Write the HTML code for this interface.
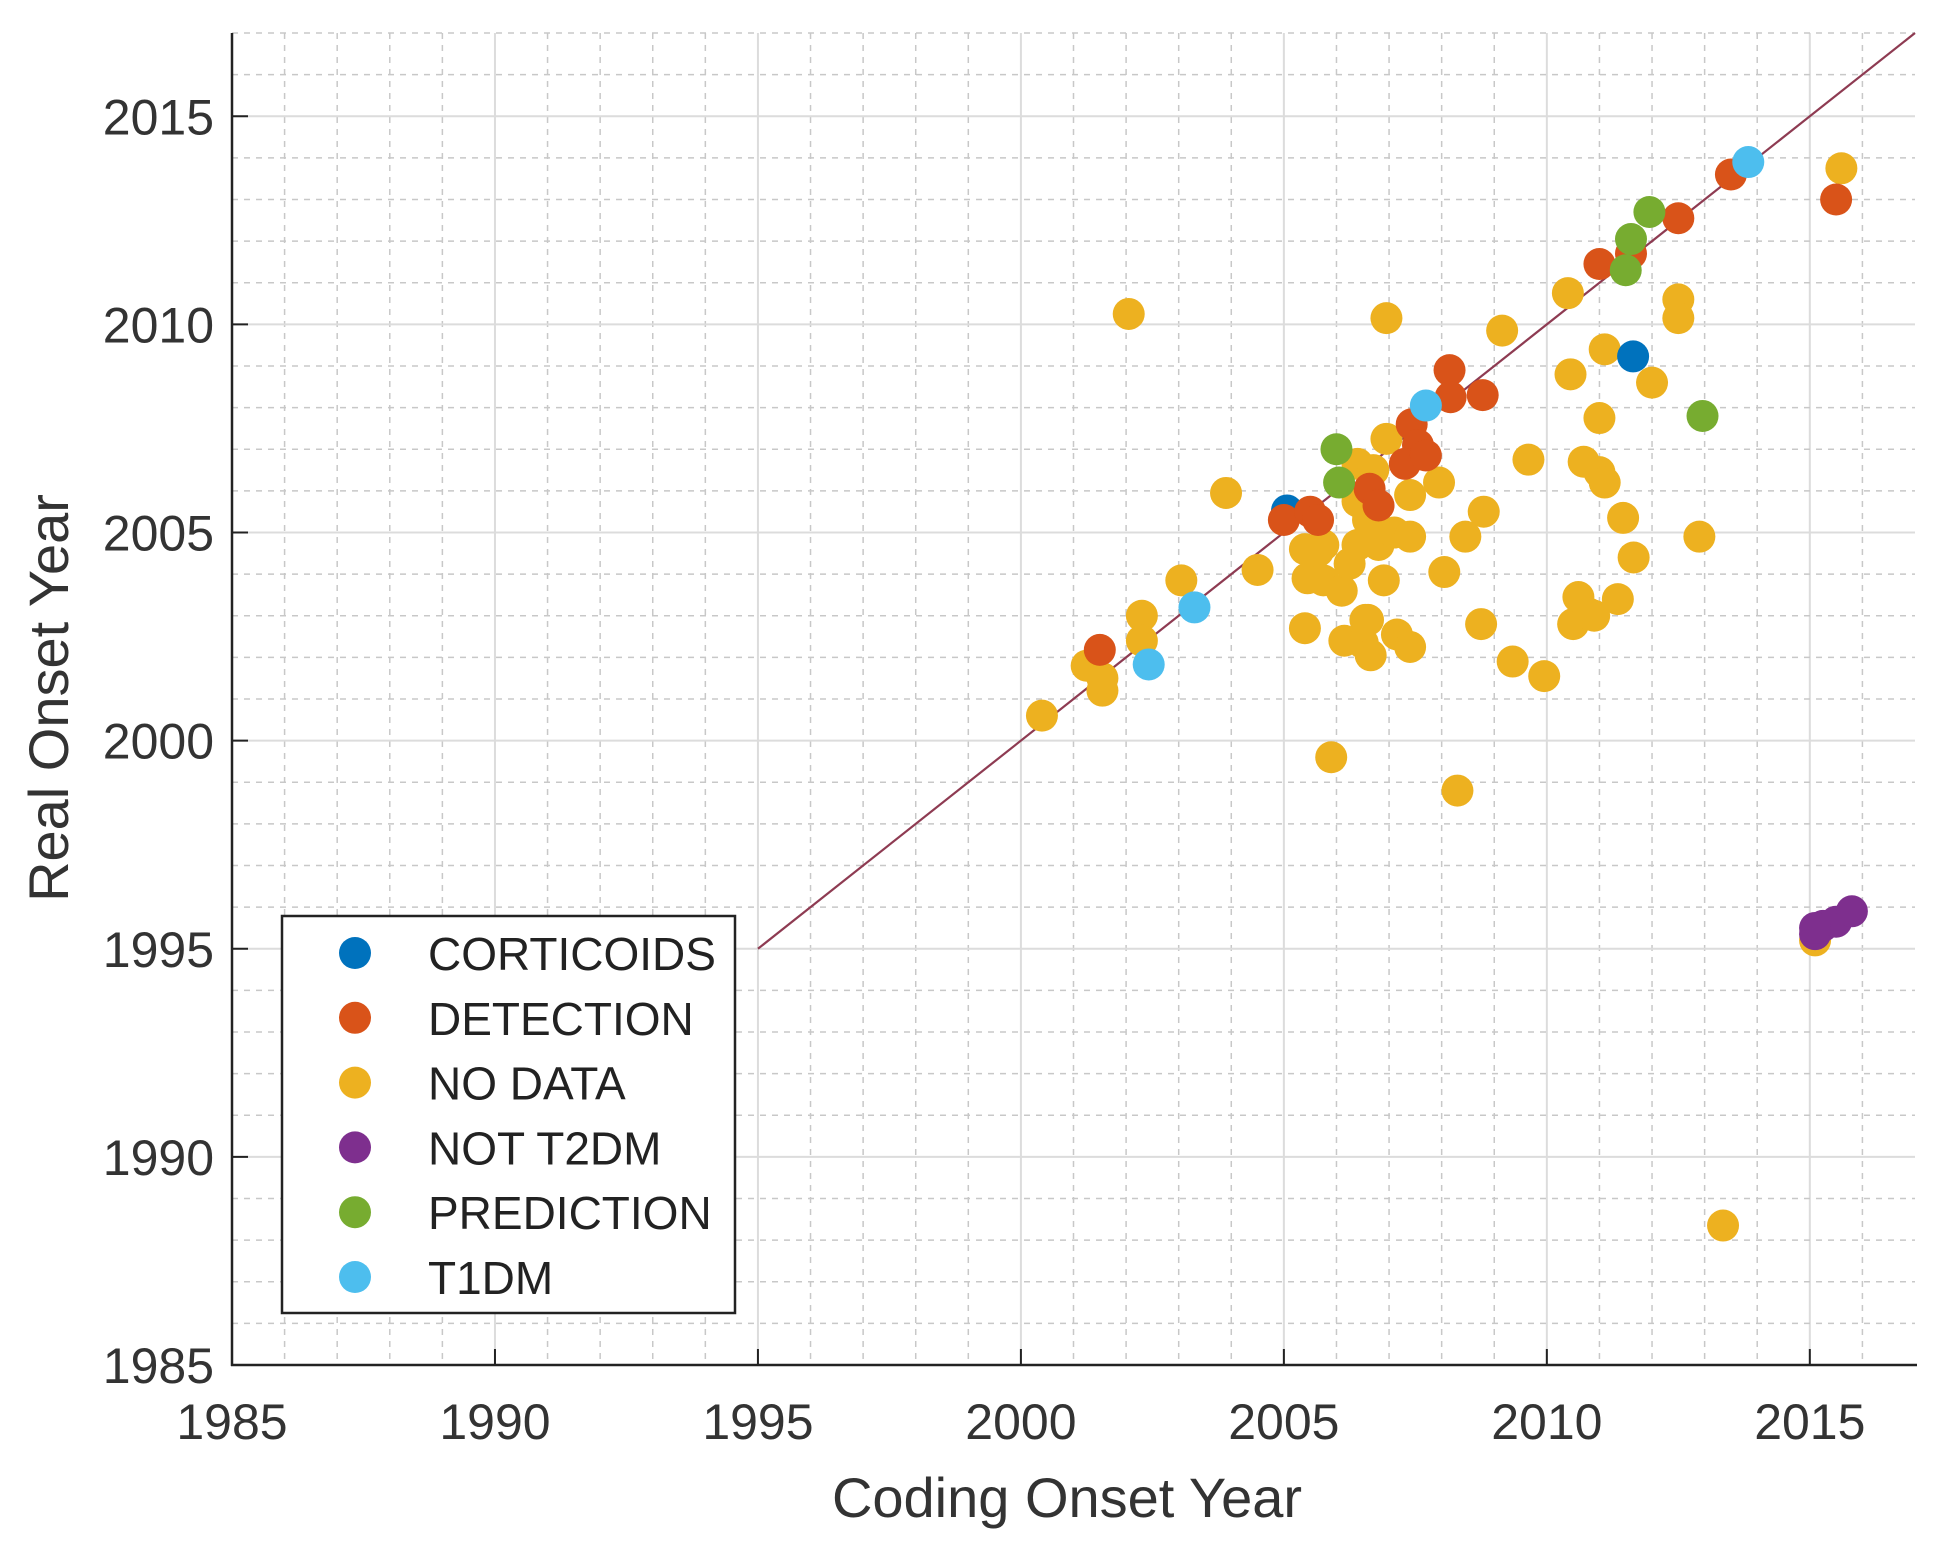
<!DOCTYPE html>
<html><head><meta charset="utf-8"><style>
html,body{margin:0;padding:0;background:#fff;}
svg{display:block;font-family:"Liberation Sans",sans-serif;}
</style></head><body>
<svg id="chart" width="1938" height="1549" viewBox="0 0 1938 1549" xmlns="http://www.w3.org/2000/svg">
<rect width="1938" height="1549" fill="#fff"/>
<g id="grid"></g>
<g id="refline"></g>
<g id="marks"></g>
<g id="axes"></g>
<text x="1067" y="1517" font-size="56" text-anchor="middle" fill="#333">Coding Onset Year</text>
<text transform="translate(68,698) rotate(-90)" font-size="56" text-anchor="middle" fill="#333">Real Onset Year</text>
<g id="legend"></g>
</svg>
<script>
const xTicks = [1985,1990,1995,2000,2005,2010,2015];
const yTicks = [1985,1990,1995,2000,2005,2010,2015];
const groupNames = ["CORTICOIDS","DETECTION","NO DATA","NOT T2DM","PREDICTION","T1DM"];
const groupColors = ["#0072BD","#D95319","#EDB120","#7E2F8E","#77AC30","#4DBEEE"];
const drawOrder = [2,0,1,3,4,5];
const corticoidsX = [2005.06,2011.64];
const corticoidsY = [2005.53,2009.23];
const detectionX = [2001.5,2005.0,2005.5,2005.65,2006.63,2006.8,2007.43,2007.55,2007.3,2007.7,2008.15,2008.17,2008.78,2011.0,2011.6,2012.5,2013.5,2015.5];
const detectionY = [2002.18,2005.3,2005.5,2005.3,2006.05,2005.65,2007.6,2007.1,2006.65,2006.85,2008.9,2008.25,2008.3,2011.45,2011.7,2012.55,2013.6,2013.0];
const noDataX = [2000.4,2001.25,2001.55,2001.55,2002.3,2002.3,2002.05,2003.05,2003.9,2004.5,2005.4,2005.4,2005.45,2005.75,2005.75,2005.9,2006.1,2006.15,2006.25,2006.4,2006.4,2006.5,2006.6,2006.6,2006.65,2006.7,2006.8,2006.9,2006.95,2006.95,2007.1,2007.15,2007.4,2007.4,2007.4,2007.95,2008.05,2008.3,2008.45,2008.75,2008.8,2009.15,2009.35,2009.65,2009.95,2010.4,2010.45,2010.5,2010.6,2010.7,2010.8,2010.9,2011.0,2011.0,2011.1,2011.1,2011.35,2011.45,2011.65,2012.0,2012.5,2012.5,2012.9,2013.35,2015.1,2015.6,2006.4,2005.65,2006.55,2006.6];
const noDataY = [2000.6,2001.8,2001.2,2001.5,2003.0,2002.4,2010.25,2003.85,2005.95,2004.1,2004.6,2002.7,2003.9,2004.7,2003.85,1999.6,2003.6,2002.4,2004.25,2004.7,2006.65,2002.35,2005.45,2002.9,2002.05,2006.5,2004.7,2003.85,2010.15,2007.25,2005.0,2002.55,2004.9,2002.25,2005.9,2006.2,2004.05,1998.8,2004.9,2002.8,2005.5,2009.85,2001.9,2006.75,2001.55,2010.75,2008.8,2002.8,2003.45,2006.7,2003.05,2003.0,2007.75,2006.45,2009.4,2006.2,2003.4,2005.35,2004.4,2008.6,2010.6,2010.15,2004.9,1988.35,1995.2,2013.75,2005.75,2004.55,2002.9,2005.3];
const notT2dmX = [2015.1,2015.25,2015.5,2015.8,2015.1];
const notT2dmY = [1995.35,1995.55,1995.65,1995.9,1995.5];
const predictionX = [2006.0,2006.05,2011.5,2011.6,2011.95,2012.96];
const predictionY = [2007.0,2006.2,2011.3,2012.05,2012.7,2007.8];
const t1dmX = [2002.43,2003.3,2007.7,2013.83];
const t1dmY = [2001.83,2003.2,2008.05,2013.9];
const refLineX = [1995,2017];
const refLineY = [1995,2017];

const groupsX = [corticoidsX,detectionX,noDataX,notT2dmX,predictionX,t1dmX];
const groupsY = [corticoidsY,detectionY,noDataY,notT2dmY,predictionY,t1dmY];
const X0=232, X1=1915, Y0=1365, Y1=33, XMIN=1985, XMAX=2017, YMIN=1985, YMAX=2017;
const sx = v => X0 + (v-XMIN)/(XMAX-XMIN)*(X1-X0);
const sy = v => Y0 - (v-YMIN)/(YMAX-YMIN)*(Y0-Y1);
const NS="http://www.w3.org/2000/svg";
function mk(tag, parent, attrs){const e=document.createElementNS(NS,tag);for(const k in attrs)e.setAttribute(k,attrs[k]);parent.appendChild(e);return e;}
const grid=document.getElementById('grid');
for(let y=XMIN+1;y<XMAX;y++){
  const major = xTicks.includes(y);
  const l=mk('line',grid,{x1:sx(y),x2:sx(y),y1:Y1,y2:Y0,stroke:major?'#dcdcdc':'#c8c8c8','stroke-width':major?2:1.5,'stroke-dasharray':major?'none':'6,6'});
  
  
}
for(let y=YMIN+1;y<=YMAX;y++){
  const major = yTicks.includes(y);
  const l=mk('line',grid,{x1:X0,x2:X1,y1:sy(y),y2:sy(y),stroke:major?'#dcdcdc':'#c8c8c8','stroke-width':major?2:1.5,'stroke-dasharray':major?'none':'6,6'});
  
  
}
const rl=mk('line',document.getElementById('refline'),{x1:sx(refLineX[0]),y1:sy(refLineY[0]),x2:sx(refLineX[1]),y2:sy(refLineY[1]),stroke:'#8E3B52','stroke-width':2.2});


const marks=document.getElementById('marks');
drawOrder.forEach(g=>{
  groupsX[g].forEach((xv,i)=>{
    const c=mk('circle',marks,{cx:sx(xv),cy:sy(groupsY[g][i]),r:16,fill:groupColors[g]});
    
    
  });
});
const axes=document.getElementById('axes');
mk('line',axes,{x1:X0,x2:X0,y1:Y1,y2:Y0+1,stroke:'#222','stroke-width':2.5});
mk('line',axes,{x1:X0-1,x2:X1+2,y1:Y0,y2:Y0,stroke:'#222','stroke-width':2.5});
xTicks.forEach(t=>{
  mk('line',axes,{x1:sx(t),x2:sx(t),y1:Y0,y2:Y0-16,stroke:'#222','stroke-width':2});
  const tx=mk('text',axes,{x:sx(t),y:Y0+74,'font-size':50,'text-anchor':'middle',fill:'#333'});
  tx.textContent=t;
  
  
});
yTicks.forEach(t=>{
  mk('line',axes,{x1:X0,x2:X0+16,y1:sy(t),y2:sy(t),stroke:'#222','stroke-width':2});
  const tx=mk('text',axes,{x:X0-18,y:sy(t)+18,'font-size':50,'text-anchor':'end',fill:'#333'});
  tx.textContent=t;
  
  
});
const lg=document.getElementById('legend');
const box=mk('rect',lg,{x:282,y:916,width:453,height:397,fill:'#fff',stroke:'#222','stroke-width':2.5});


groupNames.forEach((n,i)=>{
  const yy=953+i*64.8;
  const g=mk('g',lg,{});
  
  
  mk('circle',g,{cx:355,cy:yy,r:16,fill:groupColors[i]});
  const t=mk('text',g,{x:428,y:yy+17,'font-size':46,fill:'#222'});
  t.textContent=n;
});
</script>
</body></html>
